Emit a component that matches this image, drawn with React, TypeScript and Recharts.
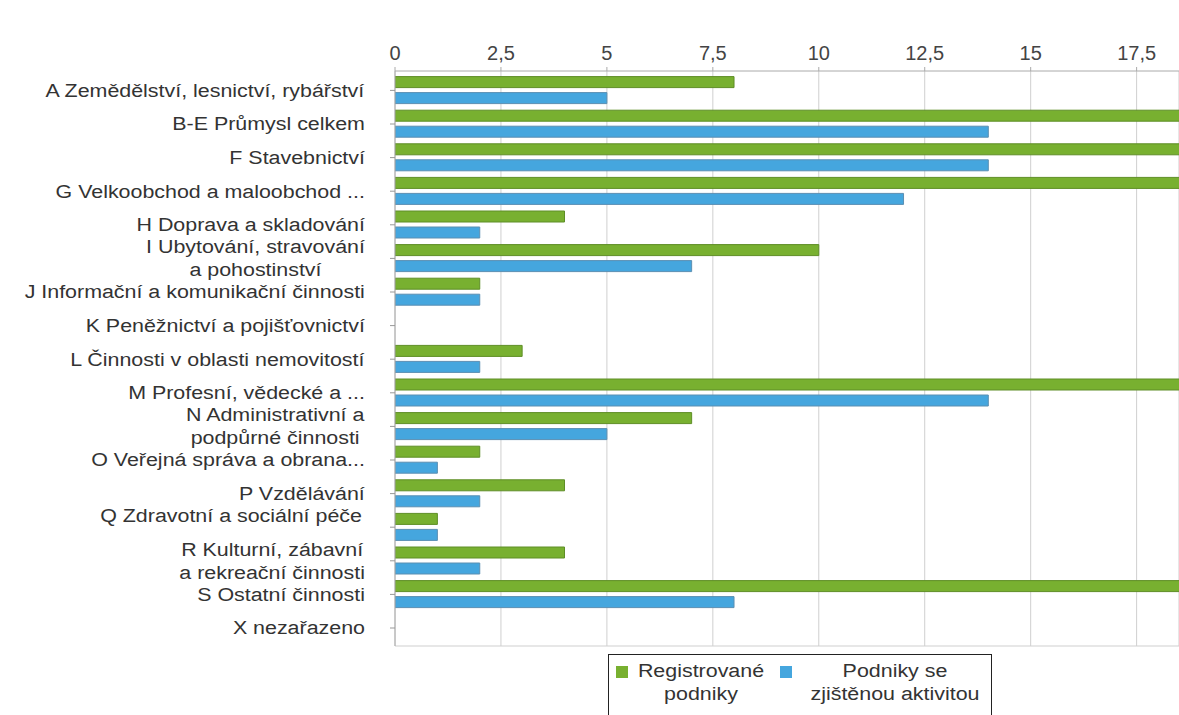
import React from "react";
import { BarChart, Bar, XAxis, YAxis, CartesianGrid, Legend } from "recharts";

const categories: string[] = [
  "A Zemědělství, lesnictví, rybářství",
  "B-E Průmysl celkem",
  "F Stavebnictví",
  "G Velkoobchod a maloobchod ...",
  "H Doprava a skladování",
  "I Ubytování, stravování\na pohostinství",
  "J Informační a komunikační činnosti",
  "K Peněžnictví a pojišťovnictví",
  "L Činnosti v oblasti nemovitostí",
  "M Profesní, vědecké a ...",
  "N Administrativní a\npodpůrné činnosti",
  "O Veřejná správa a obrana...",
  "P Vzdělávání",
  "Q  Zdravotní a sociální péče\n",
  "R Kulturní, zábavní\na rekreační činnosti",
  "S Ostatní činnosti",
  "X nezařazeno",
];

const registrovane: number[] = [8, 26, 24, 22, 4, 10, 2, 0, 3, 20, 7, 2, 4, 1, 4, 19, 0];
const aktivni: number[] = [5, 14, 14, 12, 2, 7, 2, 0, 2, 14, 5, 1, 2, 1, 2, 8, 0];

const xTicks: number[] = [0, 2.5, 5, 7.5, 10, 12.5, 15, 17.5];

const seriesNames = {
  reg: "Registrované\npodniky",
  akt: "Podniky se\nzjištěnou aktivitou",
};

const data = categories.map((name, i) => ({
  name,
  reg: registrovane[i],
  akt: aktivni[i],
}));

const GREEN = "#78B030";
const GREEN_STROKE = "#5E8E26";
const BLUE = "#45A6DE";
const BLUE_STROKE = "#5B8FB2";
const TEXT = "#333333";
const FONT = "'Liberation Sans', Arial, sans-serif";
const LABEL_SIZE = 18;
const SX = 1.19;

let ctx: CanvasRenderingContext2D | null = null;
function measure(t: string): number {
  if (!ctx) {
    const c = document.createElement("canvas");
    ctx = c.getContext("2d");
  }
  if (!ctx) return t.length * 9;
  ctx.font = `${LABEL_SIZE}px ${FONT}`;
  return ctx.measureText(t).width;
}

const CategoryTick = (props: any) => {
  const { y, payload } = props;
  const lines = String(payload.value).split("\n");
  const widths = lines.map((l) => measure(l) * SX);
  const maxW = Math.max(...widths);
  const right = 365;
  const cx = right - maxW / 2;
  const n = lines.length;
  return (
    <g>
      {lines.map((l, i) => (
        <text
          key={i}
          transform={`translate(${cx},${y + (i - (n - 1) / 2) * 23}) scale(${SX},1)`}
          x={0}
          y={0}
          textAnchor="middle"
          dominantBaseline="central"
          fontSize={LABEL_SIZE}
          fontFamily={FONT}
          fill={TEXT}
        >
          {l}
        </text>
      ))}
    </g>
  );
};

const LegendBox = () => {
  const textStyle: React.CSSProperties = {
    position: "absolute",
    width: 200,
    textAlign: "center",
    fontSize: LABEL_SIZE,
    lineHeight: "23px",
    fontFamily: FONT,
    color: TEXT,
    transform: `scaleX(${SX})`,
    transformOrigin: "50% 50%",
    whiteSpace: "pre",
    top: 5,
  };
  const sq: React.CSSProperties = {
    position: "absolute",
    width: 12,
    height: 12,
    top: 11,
  };
  return (
    <div
      style={{
        position: "relative",
        width: 384,
        height: 61,
        boxSizing: "border-box",
        border: "1.5px solid #222",
        borderBottom: "none",
        background: "#fff",
      }}
    >
      <div style={{ ...sq, left: 7, background: GREEN }} />
      <div style={{ ...textStyle, left: 92 - 100 }}>{seriesNames.reg}</div>
      <div style={{ ...sq, left: 171, background: BLUE }} />
      <div style={{ ...textStyle, left: 286 - 100 }}>{seriesNames.akt}</div>
    </div>
  );
};

export default function App() {
  return (
    <div style={{ position: "absolute", left: 0, top: 0, width: 1179, height: 715, background: "#fff" }}>
      <BarChart
        width={1179}
        height={715}
        data={data}
        layout="vertical"
        margin={{ top: 0, right: 0, bottom: 69, left: 0 }}
        barSize={11}
        barGap={5}
      >
        <CartesianGrid
          stroke="#cfcfcf"
          vertical={true}
          horizontal={true}
          horizontalCoordinatesGenerator={({ offset }: any) => [offset.top + offset.height]}
        />
        <XAxis
          type="number"
          orientation="top"
          domain={[0, 18.5]}
          allowDataOverflow
          ticks={xTicks}
          height={71}
          tickSize={4}
          tickMargin={7}
          tickLine={{ stroke: "#aaa" }}
          axisLine={{ stroke: "#aaa" }}
          tickFormatter={(v: number) => String(v).replace(".", ",")}
          tick={{ fontSize: 20, fontFamily: FONT, fill: "#444" }}
        />
        <YAxis
          type="category"
          dataKey="name"
          width={395}
          padding={{ top: 2.6, bottom: 1.2 }}
          tickSize={5}
          tickLine={{ stroke: "#999" }}
          axisLine={{ stroke: "#aaa" }}
          tick={<CategoryTick />}
          interval={0}
        />
        <Legend
          layout="horizontal"
          verticalAlign="middle"
          align="center"
          wrapperStyle={{ left: 608, top: 654, width: 384, height: 61 }}
          content={() => <LegendBox />}
        />
        <Bar dataKey="reg" name="Registrované podniky" fill={GREEN} stroke={GREEN_STROKE} strokeWidth={1} isAnimationActive={false} />
        <Bar dataKey="akt" name="Podniky se zjištěnou aktivitou" fill={BLUE} stroke={BLUE_STROKE} strokeWidth={1} isAnimationActive={false} />
      </BarChart>
    </div>
  );
}
